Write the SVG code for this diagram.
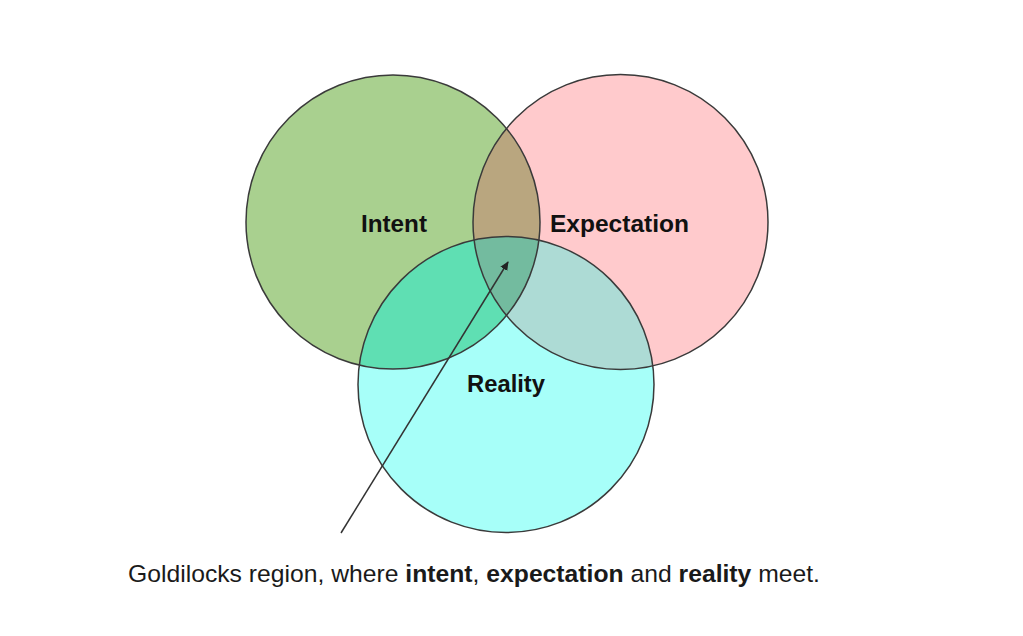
<svg xmlns="http://www.w3.org/2000/svg" width="1023" height="636" viewBox="0 0 1023 636">
<style>
.lbl{font-family:"Liberation Sans",Arial,sans-serif;font-weight:bold;font-size:24.5px;fill:#111;text-anchor:middle}
.cap{font-family:"Liberation Sans",Arial,sans-serif;font-size:24.5px;fill:#1a1a1a}
.edge{fill:none;stroke:#3a3a3a;stroke-width:1.5}
.conn{stroke:#333;stroke-width:1.5;fill:none}
</style>
<defs>
<clipPath id="cI"><circle cx="393" cy="222" r="147"/></clipPath>
<clipPath id="cE"><circle cx="620.5" cy="222" r="147.5"/></clipPath>
<clipPath id="cR"><circle cx="506" cy="384.5" r="148"/></clipPath>
<marker id="ah" markerWidth="10" markerHeight="10" refX="8" refY="5" orient="auto" markerUnits="userSpaceOnUse">
<path d="M0,1 L9,5 L0,9 z" fill="#222"/>
</marker>
</defs>
<rect width="1023" height="636" fill="#ffffff"/>
<g id="intent">
<circle cx="393" cy="222" r="147" fill="#a9d08f"/>
</g>
<g id="expectation">
<circle cx="620.5" cy="222" r="147.5" fill="#ffcacc"/>
</g>
<g id="reality">
<circle cx="506" cy="384.5" r="148" fill="#a7fff9"/>
</g>
<g id="overlaps">
<g clip-path="url(#cI)"><circle cx="620.5" cy="222" r="147.5" fill="#b9a67f"/></g>
<g clip-path="url(#cI)"><circle cx="506" cy="384.5" r="148" fill="#5fdfb3"/></g>
<g clip-path="url(#cE)"><circle cx="506" cy="384.5" r="148" fill="#addbd5"/></g>
<g clip-path="url(#cI)"><g clip-path="url(#cE)"><circle cx="506" cy="384.5" r="148" fill="#73bb9f"/></g></g>
</g>
<g id="outlines">
<circle class="edge" cx="393" cy="222" r="147"/>
<circle class="edge" cx="620.5" cy="222" r="147.5"/>
<circle class="edge" cx="506" cy="384.5" r="148"/>
</g>
<g id="labels">
<text class="lbl" x="394" y="232" textLength="66" lengthAdjust="spacingAndGlyphs">Intent</text>
<text class="lbl" x="619.5" y="232" textLength="139" lengthAdjust="spacingAndGlyphs">Expectation</text>
<text class="lbl" x="506" y="392" textLength="78" lengthAdjust="spacingAndGlyphs">Reality</text>
</g>
<g id="connectors">
<line class="conn" x1="341" y1="533" x2="508" y2="262" marker-end="url(#ah)"/>
</g>
<g id="caption">
<text class="cap" x="128" y="582" textLength="692" lengthAdjust="spacingAndGlyphs">Goldilocks region, where <tspan font-weight="bold">intent</tspan>, <tspan font-weight="bold">expectation</tspan> and <tspan font-weight="bold">reality</tspan> meet.</text>
</g>
</svg>
